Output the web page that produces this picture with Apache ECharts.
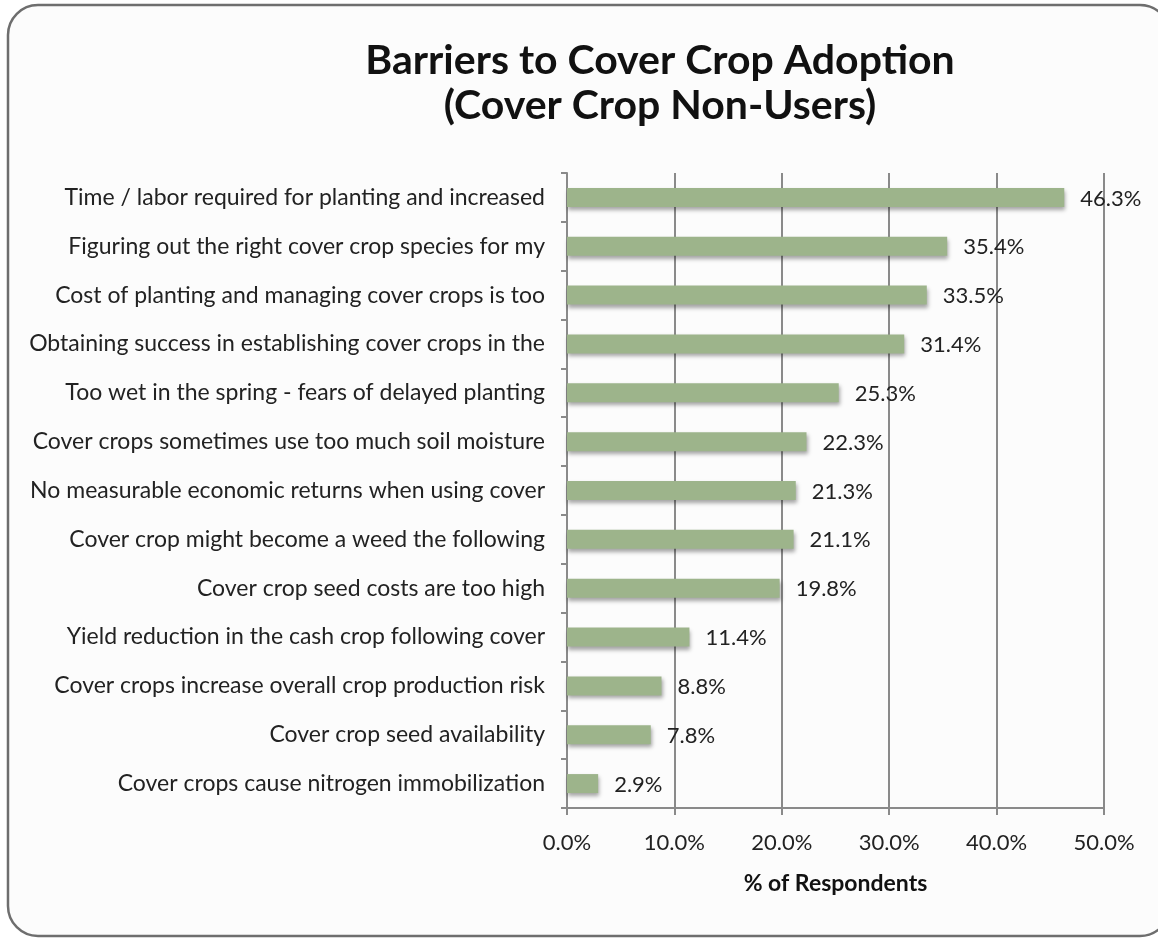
<!DOCTYPE html>
<html>
<head>
<meta charset="utf-8">
<script src="https://cdn.jsdelivr.net/npm/echarts@6/dist/echarts.min.js"></script>
<style>
html,body{margin:0;padding:0;background:#ffffff;}
#chart{width:1158px;height:938px;}
</style>
</head>
<body>
<div id="chart"></div>
<script>
const categories = [
  "Time / labor required for planting and increased",
  "Figuring out the right cover crop species for my",
  "Cost of planting and managing cover crops is too",
  "Obtaining success in establishing cover crops in the",
  "Too wet in the spring - fears of delayed planting",
  "Cover crops sometimes use too much soil moisture",
  "No measurable economic returns when using cover",
  "Cover crop might become a weed the following",
  "Cover crop seed costs are too high",
  "Yield reduction in the cash crop following cover",
  "Cover crops increase overall crop production risk",
  "Cover crop seed availability",
  "Cover crops cause nitrogen immobilization"
];
const values = [46.3, 35.4, 33.5, 31.4, 25.3, 22.3, 21.3, 21.1, 19.8, 11.4, 8.8, 7.8, 2.9];
const titleLines = ["Barriers to Cover Crop Adoption", "(Cover Crop Non-Users)"];
const xAxisName = "% of Respondents";

const FONT = "Lato, 'Open Sans', sans-serif";
const chart = echarts.init(document.getElementById('chart'), null, {renderer: 'canvas'});
chart.setOption({
  backgroundColor: '#ffffff',
  animation: false,
  graphic: [
    {
      type: 'rect', z: -10,
      shape: {x: 8, y: 5, width: 1162, height: 931, r: 30},
      style: {fill: '#fcfcfc', stroke: '#6e6e6e', lineWidth: 2.5}
    }
  ],
  title: {
    text: titleLines.join('\n'),
    left: 655, top: 33, textAlign: 'center',
    textStyle: {fontFamily: FONT, fontWeight: 'bold', fontSize: 41, lineHeight: 45, color: '#111'}
  },
  grid: {left: 567, right: 54, top: 173, bottom: 130, containLabel: false},
  xAxis: {
    type: 'value', min: 0, max: 50, interval: 10,
    name: xAxisName, nameLocation: 'middle', nameGap: 64,
    nameTextStyle: {fontFamily: FONT, fontWeight: 'bold', fontSize: 23, color: '#111'},
    axisLine: {show: true, lineStyle: {color: '#8a8a8a', width: 2}},
    axisTick: {show: true, length: 7, lineStyle: {color: '#8a8a8a', width: 2}},
    axisLabel: {formatter: v => v.toFixed(1) + '%', fontFamily: FONT, fontSize: 22, color: '#222', margin: 24},
    splitLine: {show: true, lineStyle: {color: '#8a8a8a', width: 2}}
  },
  yAxis: {
    type: 'category', data: categories, inverse: true,
    axisLine: {show: true, lineStyle: {color: '#8a8a8a', width: 2}},
    axisTick: {show: true, length: 6, lineStyle: {color: '#8a8a8a', width: 2}},
    axisLabel: {fontFamily: FONT, fontSize: 23, color: '#222', margin: 22}
  },
  series: [{
    type: 'bar', data: values, barWidth: 19,
    itemStyle: {
      color: '#9db48b',
      shadowColor: 'rgba(0,0,0,0.35)', shadowBlur: 4, shadowOffsetY: 3, shadowOffsetX: 1
    },
    label: {
      show: true, position: 'right', distance: 16, offset: [0, 1],
      formatter: p => p.value.toFixed(1) + '%',
      fontFamily: FONT, fontSize: 22, color: '#222'
    }
  }]
});
</script>
</body>
</html>
